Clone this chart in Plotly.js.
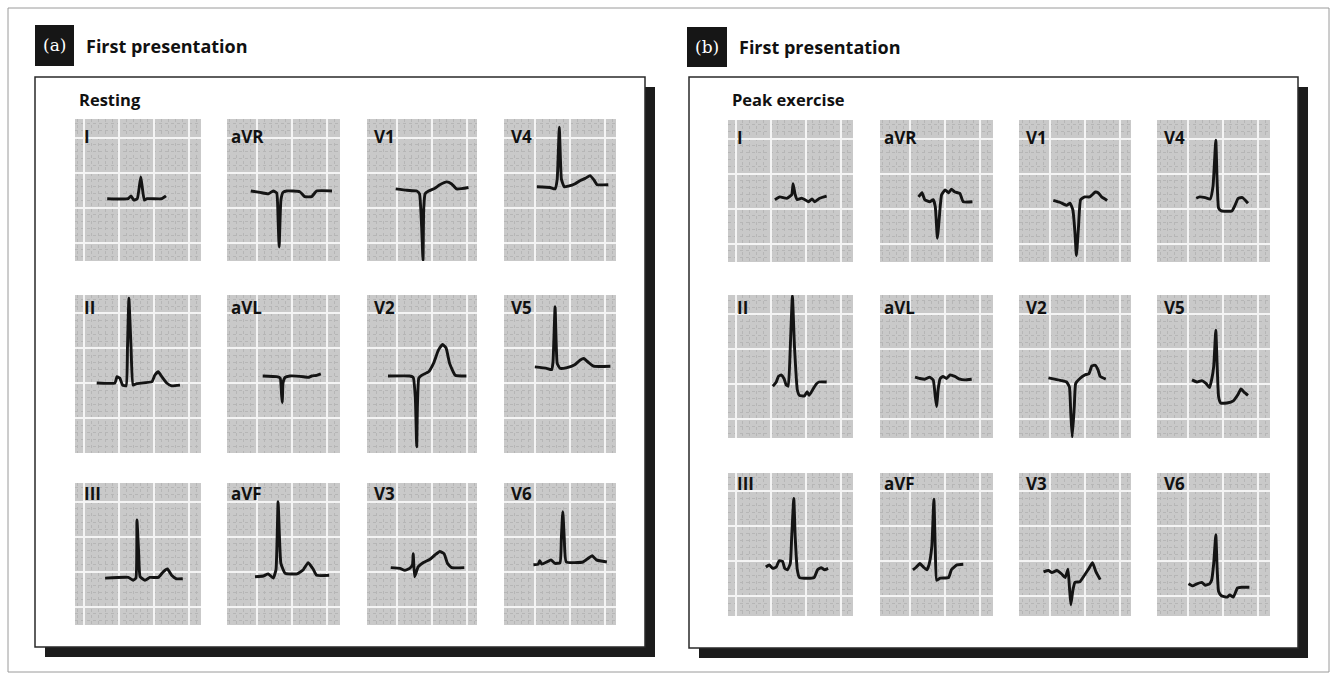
<!DOCTYPE html>
<html><head><meta charset="utf-8">
<script src="https://cdn.plot.ly/plotly-3.0.1.min.js"></script>
<style>html,body{margin:0;padding:0;background:#fff;}#chart{width:1336px;height:678px;}</style>
</head><body><div id="chart"></div>
<script>
// ---------- DATA (time and amplitude in mm of ECG paper, measured from each cell's lower-left corner) ----------
const leads = ['I','aVR','V1','V4','II','aVL','V2','V5','III','aVF','V3','V6'];
const panelLetters = ['(a)','(b)'];
const panelTitles = ['First presentation','First presentation'];
const conditions = ['Resting','Peak exercise'];

// Resting
const rest_I_x   = [4.6,7.6,8.0,8.4,8.9,9.4,9.9,10.3,12.4,13.0];
const rest_I_y   = [8.9,8.9,9.3,8.7,8.9,12.0,8.7,8.9,8.9,9.3];
const rest_aVR_x = [3.4,4.7,5.9,6.6,7.1,7.3,7.45,7.7,8.0,8.5,10.4,11.1,12.1,12.8,15.0];
const rest_aVR_y = [10.0,9.8,9.6,10.0,9.7,5.9,2.0,8.7,9.8,10.0,9.9,9.2,9.2,10.0,10.0];
const rest_V1_x  = [4.1,5.7,7.1,7.5,7.8,8.0,8.1,8.3,8.8,9.7,10.4,11.4,12.1,12.8,14.5];
const rest_V1_y  = [10.3,10.1,10.0,9.6,5.0,0.1,7.4,9.6,10.0,10.4,10.9,11.3,11.0,10.3,10.5];
const rest_V4_x  = [4.7,6.6,7.3,7.6,7.9,8.2,8.6,9.2,10.1,10.9,11.6,12.3,12.9,13.3,14.9];
const rest_V4_y  = [10.6,10.5,10.3,11.7,19.1,11.7,10.6,10.7,11.0,11.5,11.8,12.2,11.5,10.9,10.9];
const rest_II_x  = [3.1,5.7,6.0,6.4,6.8,7.3,7.5,7.7,8.0,8.3,8.8,11.0,11.4,11.9,12.4,13.1,13.8,15.0];
const rest_II_y  = [10.0,10.0,10.9,10.7,9.7,9.6,15.2,22.1,15.2,9.7,9.9,10.2,11.1,11.6,10.9,10.0,9.6,9.7];
const rest_aVL_x = [5.1,7.1,7.6,7.8,7.9,8.0,8.3,9.0,10.9,11.6,12.1,12.8,13.4];
const rest_aVL_y = [11.0,10.9,10.7,8.3,7.2,10.0,10.8,11.0,10.9,10.8,11.0,11.1,11.3];
const rest_V2_x  = [3.0,6.1,6.6,6.9,7.1,7.2,7.4,7.8,8.8,9.5,10.2,10.8,11.3,11.8,12.6,14.2];
const rest_V2_y  = [11.0,11.0,10.8,8.0,0.9,6.6,10.7,11.1,11.6,12.8,14.7,15.5,15.0,12.8,11.1,11.0];
const rest_V5_x  = [4.4,6.1,6.8,7.0,7.3,7.6,8.0,9.0,10.1,10.9,11.4,12.0,12.8,15.2];
const rest_V5_y  = [12.3,12.1,11.9,13.0,20.9,12.8,12.1,12.2,12.6,13.3,13.5,13.0,12.4,12.4];
const rest_III_x = [4.3,7.6,8.3,8.7,8.85,9.1,9.3,10.0,10.7,11.9,12.6,13.2,13.8,14.5,15.4];
const rest_III_y = [6.7,6.8,6.4,6.7,15.0,10.2,6.9,6.4,6.8,6.8,7.6,8.0,7.1,6.6,6.6];
const rest_aVF_x = [4.0,5.2,5.9,6.6,7.0,7.3,7.7,8.3,10.0,10.9,11.6,12.3,12.8,14.6];
const rest_aVF_y = [6.9,7.0,7.3,6.7,7.9,17.6,8.8,7.4,7.3,7.9,8.9,8.0,7.1,7.1];
const rest_V3_x  = [3.4,4.7,5.4,6.1,6.5,6.6,6.8,7.0,7.3,8.0,9.0,9.7,10.4,11.0,11.5,12.1,13.9];
const rest_V3_y  = [8.2,8.1,7.8,8.1,8.6,10.2,6.9,7.4,8.3,8.9,9.4,10.0,10.5,10.2,8.8,8.2,8.2];
const rest_V6_x  = [4.2,4.9,5.1,5.4,6.1,6.7,7.3,8.0,8.2,8.4,8.6,8.9,11.3,12.0,12.6,13.2,14.7];
const rest_V6_y  = [8.6,8.7,9.2,8.7,9.0,9.3,8.8,8.9,12.6,16.2,12.6,9.0,9.0,9.5,9.9,9.3,9.0];

// Peak exercise
const ex_I_x   = [6.7,7.4,8.4,9.1,9.3,9.6,9.9,10.5,11.0,11.5,12.0,12.4,13.1,14.1];
const ex_I_y   = [8.9,9.3,9.1,9.6,11.2,9.6,8.9,9.1,8.9,8.6,9.0,8.6,9.1,9.4];
const ex_aVR_x = [5.5,6.0,6.4,7.1,7.6,7.9,8.2,8.6,8.8,9.3,9.8,10.2,10.7,11.4,11.9,13.2];
const ex_aVR_y = [9.3,9.9,8.9,8.6,8.9,7.9,3.4,7.9,9.6,10.3,9.9,10.4,10.0,9.8,8.6,8.6];
const ex_V1_x  = [4.9,5.9,6.8,7.3,7.7,8.0,8.2,8.5,8.8,9.4,10.1,10.9,11.3,11.8,12.6];
const ex_V1_y  = [8.8,8.5,8.1,8.4,7.4,4.1,0.9,5.0,8.9,9.3,9.3,10.0,9.9,9.3,8.8];
const ex_V4_x  = [5.6,6.1,6.9,7.6,8.0,8.4,8.6,8.8,9.2,10.7,11.1,11.6,12.2,13.0];
const ex_V4_y  = [9.1,9.3,9.2,9.0,10.8,17.4,11.2,7.7,7.3,7.3,8.0,9.1,9.2,8.4];
const ex_II_x  = [6.4,6.9,7.2,7.6,8.0,8.3,8.6,8.9,9.2,9.5,9.9,10.2,10.9,11.3,11.6,12.1,12.6,13.0,14.1];
const ex_II_y  = [7.4,8.0,8.8,9.0,8.5,7.6,7.4,13.0,20.3,13.0,6.9,6.1,6.0,6.6,6.1,6.9,7.7,8.0,8.0];
const ex_aVL_x = [5.0,5.7,6.4,7.1,7.6,7.9,8.1,8.3,8.6,9.0,9.5,10.0,10.7,11.4,12.1,13.1];
const ex_aVL_y = [8.7,8.5,8.4,8.7,8.3,5.9,4.5,6.9,8.5,8.8,8.5,9.0,8.8,8.4,8.3,8.4];
const ex_V2_x  = [4.2,5.1,6.1,6.8,7.2,7.4,7.6,7.9,8.1,8.7,9.4,10.0,10.4,10.9,11.3,11.6,12.4];
const ex_V2_y  = [8.6,8.4,8.2,8.0,7.3,3.5,0.1,4.5,7.8,8.5,9.0,9.2,10.3,10.4,9.7,8.8,8.4];
const ex_V5_x  = [5.0,5.7,6.4,7.0,7.5,7.8,8.1,8.4,8.6,8.8,9.1,10.0,10.9,11.5,12.0,12.4,13.0];
const ex_V5_y  = [8.3,8.0,8.2,7.8,7.2,8.3,10.2,15.4,10.2,5.9,5.0,5.0,5.3,6.1,7.0,6.6,6.1];
const ex_III_x = [5.4,5.9,6.4,6.9,7.3,7.8,8.1,8.5,8.9,9.1,9.4,9.6,9.9,10.2,10.9,12.3,12.8,13.3,13.8,14.3];
const ex_III_y = [7.0,7.3,6.8,7.0,7.9,7.8,6.8,6.6,7.5,11.3,16.8,11.3,6.6,5.5,5.4,5.5,6.6,6.9,6.6,6.8];
const ex_aVF_x = [4.7,5.2,5.7,6.2,6.7,7.0,7.4,7.7,7.9,8.1,8.6,9.8,10.2,11.0,11.9];
const ex_aVF_y = [6.6,7.0,7.5,7.0,6.6,7.3,9.9,16.7,9.4,5.1,5.4,5.5,6.6,7.3,7.4];
const ex_V3_x  = [3.5,4.2,4.7,5.4,6.1,6.6,7.0,7.2,7.4,7.7,8.0,8.7,9.4,10.0,10.5,11.0,11.6];
const ex_V3_y  = [6.3,6.5,6.2,6.5,6.0,5.5,6.7,4.2,1.6,3.7,4.8,4.9,5.9,6.8,7.6,6.3,5.2];
const ex_V6_x  = [4.5,5.1,5.7,6.4,6.9,7.5,7.8,8.1,8.4,8.6,8.8,9.2,10.0,10.4,10.9,11.5,12.1,13.2];
const ex_V6_y  = [4.6,4.3,4.6,4.8,4.4,4.6,5.1,7.5,11.6,6.6,3.5,2.9,2.7,3.0,2.7,4.0,4.1,4.1];

const restingSeries = [
  [rest_I_x,rest_I_y],[rest_aVR_x,rest_aVR_y],[rest_V1_x,rest_V1_y],[rest_V4_x,rest_V4_y],
  [rest_II_x,rest_II_y],[rest_aVL_x,rest_aVL_y],[rest_V2_x,rest_V2_y],[rest_V5_x,rest_V5_y],
  [rest_III_x,rest_III_y],[rest_aVF_x,rest_aVF_y],[rest_V3_x,rest_V3_y],[rest_V6_x,rest_V6_y]];
const exerciseSeries = [
  [ex_I_x,ex_I_y],[ex_aVR_x,ex_aVR_y],[ex_V1_x,ex_V1_y],[ex_V4_x,ex_V4_y],
  [ex_II_x,ex_II_y],[ex_aVL_x,ex_aVL_y],[ex_V2_x,ex_V2_y],[ex_V5_x,ex_V5_y],
  [ex_III_x,ex_III_y],[ex_aVF_x,ex_aVF_y],[ex_V3_x,ex_V3_y],[ex_V6_x,ex_V6_y]];

// ---------- LAYOUT GEOMETRY (pixels) ----------
const FW = 1336, FH = 678, PXMM = 7;
const fx = p => p / FW;
const fy = p => 1 - p / FH;
const panels = [
  {series: restingSeries,
   cols: [[75,201],[227,340],[367,477],[504,616]],
   rows: [[119,261],[295,453],[483,625]],
   gridX: [9,30,30,31], gridY: [18.5,34.7,18.5],
   box: [35,77,645,647], tag: [35,25,74,66], titleXY: [84,46], condXY: [77,100]},
  {series: exerciseSeries,
   cols: [[728,853],[880,993],[1019,1131],[1157,1270]],
   rows: [[120,262],[295,438],[473,616]],
   gridX: [7.5,30,31,31], gridY: [18.5,18.7,20],
   box: [689,77,1298,648], tag: [687,27,727,67], titleXY: [737,47], condXY: [730,100]}
];
const labelDy = [17.5, 12.5, 10.8];
const labelDx = [7, 2, 5, 5];

const FONT = 'Open Sans, DejaVu Sans, sans-serif';
const traces = [];
const layout = {
  width: FW, height: FH, autosize: false,
  margin: {l:0, r:0, t:0, b:0},
  paper_bgcolor: '#ffffff', plot_bgcolor: '#c9c9c9',
  showlegend: false, shapes: [], annotations: []
};

function mkAxis(domain, range, t0) {
  return {domain, range, anchor: null, showticklabels: false, ticks: '', zeroline: false,
    showline: false, fixedrange: true, showgrid: true, gridcolor: '#f4f4f4', gridwidth: 2,
    tickmode: 'linear', dtick: 5, tick0: t0,
    minor: {dtick: 1, tick0: t0, showgrid: true, gridcolor: '#b6b6b6', gridwidth: 1, griddash: 'dot'}};
}

let k = 0;
panels.forEach((P, pi) => {
  // shadow, box, tag
  const [bx0, by0, bx1, by1] = P.box;
  const sh = 10;
  layout.shapes.push({type:'rect', xref:'paper', yref:'paper', x0:fx(bx1), x1:fx(bx1+sh), y0:fy(by0+sh), y1:fy(by1+sh), fillcolor:'#1c1c1c', line:{width:0}, layer:'below'});
  layout.shapes.push({type:'rect', xref:'paper', yref:'paper', x0:fx(bx0+sh), x1:fx(bx1+sh), y0:fy(by1), y1:fy(by1+sh), fillcolor:'#1c1c1c', line:{width:0}, layer:'below'});
  layout.shapes.push({type:'rect', xref:'paper', yref:'paper', x0:fx(bx0), x1:fx(bx1), y0:fy(by0), y1:fy(by1), line:{color:'#2a2a2a', width:1.5}, layer:'below'});
  const [tx0, ty0, tx1, ty1] = P.tag;
  layout.shapes.push({type:'rect', xref:'paper', yref:'paper', x0:fx(tx0), x1:fx(tx1), y0:fy(ty0), y1:fy(ty1), fillcolor:'#161616', line:{width:0}, layer:'below'});
  layout.annotations.push({xref:'paper', yref:'paper', x:fx((tx0+tx1)/2), y:fy((ty0+ty1)/2), xanchor:'center', yanchor:'middle', showarrow:false,
    text: panelLetters[pi], font:{family:'DejaVu Serif, serif', size:17, color:'#ffffff'}});
  layout.annotations.push({xref:'paper', yref:'paper', x:fx(P.titleXY[0]), y:fy(P.titleXY[1]), xanchor:'left', yanchor:'middle', showarrow:false,
    text: panelTitles[pi], font:{family:FONT, size:18, color:'#111', weight:700}});
  layout.annotations.push({xref:'paper', yref:'paper', x:fx(P.condXY[0]), y:fy(P.condXY[1]), xanchor:'left', yanchor:'middle', showarrow:false,
    text: conditions[pi], font:{family:FONT, size:16.5, color:'#111', weight:700}});

  P.rows.forEach((R, ri) => {
    P.cols.forEach((C, ci) => {
      k += 1;
      const li = ri * 4 + ci;
      const xa = 'xaxis' + k, ya = 'yaxis' + k;
      const wmm = (C[1] - C[0]) / PXMM, hmm = (R[1] - R[0]) / PXMM;
      const ax = mkAxis([fx(C[0]), fx(C[1])], [0, wmm], P.gridX[ci] / PXMM);
      ax.anchor = 'y' + k;
      const ay = mkAxis([fy(R[1]), fy(R[0])], [0, hmm], P.gridY[ri] / PXMM);
      ay.anchor = 'x' + k;
      layout[xa] = ax; layout[ya] = ay;
      const [sx, sy] = P.series[li];
      traces.push({x: sx, y: sy, xaxis: 'x' + k, yaxis: 'y' + k, type: 'scatter', mode: 'lines',
        line: {color: '#141414', width: 2.9, shape: 'spline', smoothing: 0.4}, hoverinfo: 'skip'});
      layout.annotations.push({xref:'paper', yref:'paper', x:fx(C[0] + labelDx[ci]), y:fy(R[0] + labelDy[ri]),
        xanchor:'left', yanchor:'middle', showarrow:false, text: leads[li],
        font:{family:FONT, size:17, color:'#111', weight:700}});
    });
  });
});

// outer frame of the figure
layout.shapes.push({type:'rect', xref:'paper', yref:'paper', x0:fx(8), x1:fx(1329), y0:fy(8), y1:fy(672), line:{color:'#9a9a9a', width:1}, layer:'below'});

Plotly.newPlot('chart', traces, layout, {displayModeBar:false, staticPlot:true});
</script></body></html>
